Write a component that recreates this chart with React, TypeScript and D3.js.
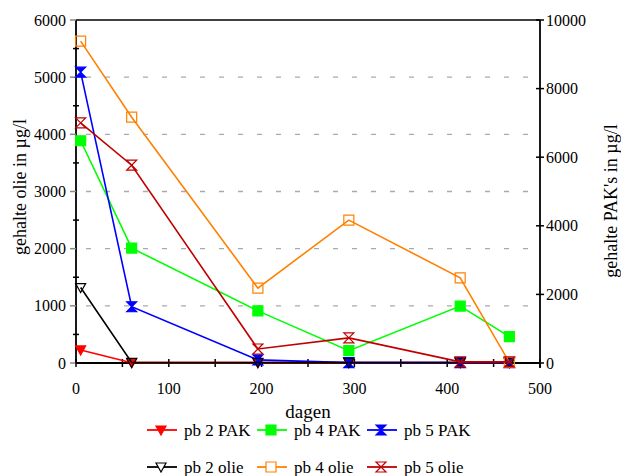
import React from "react";
import * as d3 from "d3";

// dagen (x) for every series
const days = [5, 60, 196, 294, 414, 467];

// PAK series -> right axis (µg/l)
const pb2PAK = [380, 10, 10, 10, 10, 10];
const pb4PAK = [6480, 3350, 1520, 360, 1660, 770];
const pb5PAK = [8480, 1640, 90, 10, 10, 10];

// olie series -> left axis (µg/l)
const pb2olie = [1320, 10, 10, 10, 10, 10];
const pb4olie = [5630, 4300, 1310, 2500, 1490, 10];
const pb5olie = [4200, 3460, 245, 440, 20, 20];

const xTicks = [0, 100, 200, 300, 400, 500];
const leftTicks = [0, 1000, 2000, 3000, 4000, 5000, 6000];
const rightTicks = [0, 2000, 4000, 6000, 8000, 10000];

type Shape = "tri" | "square" | "hour";

const series = [
  { name: "pb 2 PAK", values: pb2PAK, axis: "R", color: "#ff0000", shape: "tri" as Shape, filled: true },
  { name: "pb 4 PAK", values: pb4PAK, axis: "R", color: "#00ff00", shape: "square" as Shape, filled: true },
  { name: "pb 5 PAK", values: pb5PAK, axis: "R", color: "#0000ff", shape: "hour" as Shape, filled: true },
  { name: "pb 2 olie", values: pb2olie, axis: "L", color: "#000000", shape: "tri" as Shape, filled: false },
  { name: "pb 4 olie", values: pb4olie, axis: "L", color: "#ff8000", shape: "square" as Shape, filled: false },
  { name: "pb 5 olie", values: pb5olie, axis: "L", color: "#c00000", shape: "hour" as Shape, filled: false },
];

const FONT = "Liberation Serif, Times New Roman, DejaVu Serif, serif";

const markerPath = (shape: Shape, cx: number, cy: number) => {
  const s = 5;
  if (shape === "tri") return `M${cx - s},${cy - 4}L${cx + s},${cy - 4}L${cx},${cy + 5}Z`;
  if (shape === "square") return `M${cx - s},${cy - s}h${2 * s}v${2 * s}h${-2 * s}Z`;
  return `M${cx - s},${cy - s}L${cx + s},${cy - s}L${cx - s},${cy + s}L${cx + s},${cy + s}Z`;
};

const App = () => {
  const W = 621;
  const H = 476;
  const left = 76;
  const right = 540;
  const top = 20;
  const bottom = 363;

  const x = d3.scaleLinear().domain([0, 500]).range([left, right]);
  const yL = d3.scaleLinear().domain([0, 6000]).range([bottom, top]);
  const yR = d3.scaleLinear().domain([0, 10000]).range([bottom, top]);

  const minorX = d3.range(0, 501, 50);
  const minorL = d3.range(500, 6000, 1000);

  const legendCols = [147, 257, 367];
  const legendRows = [430, 467];
  const tf = { fontFamily: FONT };

  return (
    <svg width={W} height={H} style={{ position: "absolute", left: 0, top: 0, fontFamily: FONT }}>
      <rect width={W} height={H} fill="#fff" />
      {/* grid */}
      {leftTicks.slice(1, -1).map((t) => (
        <line key={"g" + t} x1={left} x2={right} y1={yL(t)} y2={yL(t)} stroke="#aaa" strokeWidth={1.3} strokeDasharray="5,14" strokeDashoffset={-10} />
      ))}
      {/* frame */}
      <line x1={left} x2={right} y1={top} y2={top} stroke="#000" strokeWidth={1.5} />
      <line x1={left} x2={left} y1={top} y2={bottom} stroke="#000" strokeWidth={1.8} />
      <line x1={right} x2={right} y1={top} y2={bottom + 5} stroke="#000" strokeWidth={1.8} />
      <line x1={left} x2={right} y1={bottom} y2={bottom} stroke="#000" strokeWidth={1.8} />

      {/* left ticks */}
      {leftTicks.map((t) => (
        <g key={"l" + t}>
          <line x1={left - 6} x2={left} y1={yL(t)} y2={yL(t)} stroke="#888" strokeWidth={1.5} />
          <text x={left - 10} y={yL(t) + 5.5} textAnchor="end" fontSize={16} style={tf}>{t}</text>
        </g>
      ))}
      {minorL.map((t) => (
        <line key={"lm" + t} x1={left - 3} x2={left + 3} y1={yL(t)} y2={yL(t)} stroke="#000" strokeWidth={1.5} />
      ))}
      {/* right ticks */}
      {rightTicks.map((t) => (
        <g key={"r" + t}>
          <line x1={right - 4} x2={right + 4} y1={yR(t)} y2={yR(t)} stroke="#000" strokeWidth={1.5} />
          <text x={right + 6} y={yR(t) + 5.5} textAnchor="start" fontSize={16} style={tf}>{t}</text>
        </g>
      ))}
      {/* x ticks */}
      {minorX.map((t) => (
        <line key={"xm" + t} x1={x(t)} x2={x(t)} y1={bottom - 4} y2={bottom + 4} stroke="#000" strokeWidth={1.5} />
      ))}
      {xTicks.map((t) => (
        <text key={"x" + t} x={x(t)} y={394} textAnchor="middle" fontSize={16} style={tf}>{t}</text>
      ))}

      {/* axis titles */}
      <text x={308} y={418} textAnchor="middle" fontSize={19} style={tf}>dagen</text>
      <text transform="translate(20,187) rotate(-90)" textAnchor="middle" dominantBaseline="central" fontSize={18} style={tf}>gehalte olie in µg/l</text>
      <text transform="translate(611,201) rotate(-90)" textAnchor="middle" dominantBaseline="central" fontSize={18} style={tf}>gehalte PAK's in µg/l</text>

      {/* series */}
      {series.map((s) => {
        const y = s.axis === "L" ? yL : yR;
        const line = d3.line<number>().x((_, i) => x(days[i])).y((v) => y(v));
        return (
          <g key={s.name}>
            <path d={line(s.values) || ""} fill="none" stroke={s.color} strokeWidth={1.6} />
            {s.values.map((v, i) => (
              <path key={i} d={markerPath(s.shape, x(days[i]), y(v))} fill={s.filled ? s.color : "none"} stroke={s.color} strokeWidth={1.2} />
            ))}
          </g>
        );
      })}

      {/* legend */}
      {series.map((s, i) => {
        const lx = legendCols[i % 3];
        const ly = legendRows[Math.floor(i / 3)];
        return (
          <g key={"leg" + s.name}>
            <line x1={lx} x2={lx + 30} y1={ly} y2={ly} stroke={s.color} strokeWidth={1.8} />
            <path d={markerPath(s.shape, lx + 14, ly)} fill={s.filled ? s.color : "#fff"} stroke={s.color} strokeWidth={1.2} />
            <text x={lx + 37} y={ly + 6} fontSize={17} style={tf}>{s.name}</text>
          </g>
        );
      })}
    </svg>
  );
};

export default App;
